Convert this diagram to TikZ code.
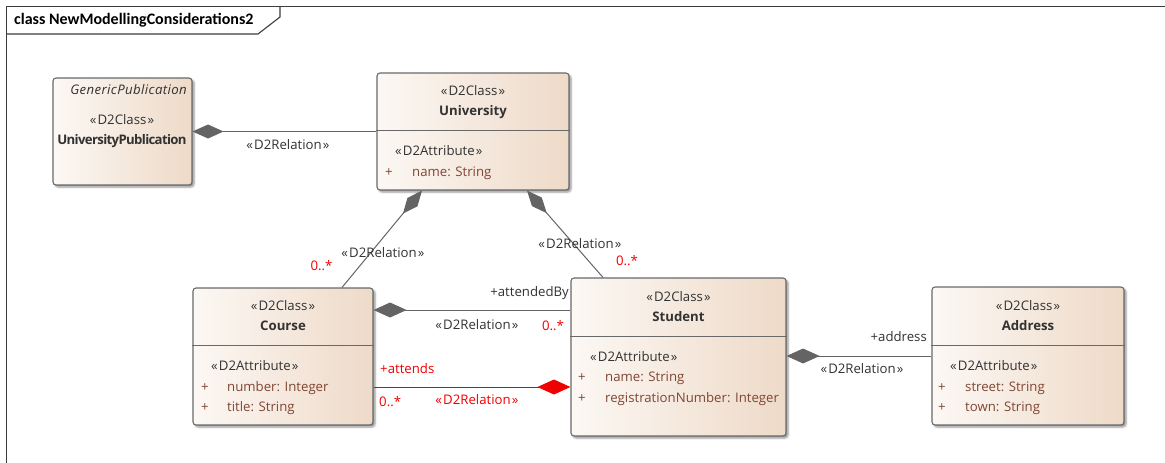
\documentclass[tikz,border=0pt]{standalone}
\usepackage{fontspec}
\setmainfont{Open Sans}
\newfontfamily\titlefont{Carlito}
\usetikzlibrary{arrows.meta,shadows.blur}
\definecolor{frameline}{RGB}{60,60,60}
\definecolor{boxline}{RGB}{105,105,105}
\definecolor{boxleft}{RGB}{252,248,244}
\definecolor{boxright}{RGB}{238,218,200}
\definecolor{attrcol}{RGB}{128,70,52}
\definecolor{txtcol}{RGB}{50,50,50}
\definecolor{relcol}{RGB}{100,100,100}
\definecolor{relred}{RGB}{240,0,0}
\newcommand{\dfont}{\fontsize{13.2}{16}\selectfont}
\newcommand{\strtype}[1]{«\kern1.2pt#1\kern1.2pt»}

\begin{document}
\begin{tikzpicture}[x=1pt, y=-1pt,
    cls/.style={draw=boxline, line width=1.1pt, rounded corners=3pt,
      left color=boxleft, right color=boxright, inner sep=0pt,
      blur shadow={shadow xshift=2pt, shadow yshift=-2pt,
        shadow blur radius=2pt, shadow opacity=45}},
    divline/.style={draw=boxline, line width=1pt},
    txt/.style={inner sep=0pt, text height=0.72em, text depth=0pt,
      text=txtcol, font=\dfont},
    bold/.style={txt, font=\dfont\bfseries},
    attr/.style={txt, text=attrcol, anchor=west},
    red/.style={txt, text=relred},
    rel/.style={draw=relcol, line width=1pt},
    relr/.style={draw=relred, line width=1pt}
  ]
  \useasboundingbox (0,0) rectangle (1165,463);
  \clip (0,0) rectangle (1165,463);
  % frame and title tab
  \draw [frameline, line width=1.3pt] (6.5,470) -- (6.5,6.5) -- (1170,6.5);
  \draw [frameline, line width=1.1pt] (6.5,34) -- (258,34) -- (280,17) -- (280,6.5);
  \node [anchor=west, inner sep=0pt, text height=0.72em, text depth=0pt,
    font=\titlefont\bfseries\fontsize{16}{18}\selectfont] (title) at (14,21) {class NewModellingConsiderations2};

  % classes
  \node [cls, minimum width=139pt, minimum height=107pt] (upub) at (122.5,131.5) {};
  \node [cls, minimum width=192pt, minimum height=117pt] (univ) at (473,131.5) {};
  \node [cls, minimum width=180pt, minimum height=137pt] (course) at (283,356.5) {};
  \node [cls, minimum width=215pt, minimum height=158pt] (student) at (678.5,357) {};
  \node [cls, minimum width=192pt, minimum height=138pt] (addr) at (1028,356) {};
  \draw [divline] (univ.west |- 0,130) -- (univ.east |- 0,130);
  \draw [divline] (course.west |- 0,345) -- (course.east |- 0,345);
  \draw [divline] (student.west |- 0,336) -- (student.east |- 0,336);
  \draw [divline] (addr.west |- 0,345) -- (addr.east |- 0,345);

  \node [txt, anchor=east, font=\dfont\itshape] (upub-g) at (187,91) {\addfontfeature{LetterSpace=3}GenericPublication};
  \node [txt] (upub-st) at (122,121) {\strtype{D2Class}};
  \node [bold] (upub-nm) at (122,141) {\addfontfeature{LetterSpace=-5}UniversityPublication};

  \node [txt] (univ-st) at (473,92) {\strtype{D2Class}};
  \node [bold] (univ-nm) at (473,112) {University};
  \node [txt, anchor=west] (univ-at) at (395,152) {\strtype{D2Attribute}};
  \node [attr] (univ-p1) at (385,173) {+};
  \node [attr] (univ-a1) at (412,173) {name: String};

  \node [txt] (course-st) at (283,307) {\strtype{D2Class}};
  \node [bold] (course-nm) at (283,327) {Course};
  \node [txt, anchor=west] (course-at) at (211,367) {\strtype{D2Attribute}};
  \node [attr] (course-p1) at (201,388) {+};
  \node [attr] (course-a1) at (227,388) {number: Integer};
  \node [attr] (course-p2) at (201,408) {+};
  \node [attr] (course-a2) at (227,408) {title: String};

  \node [txt] (student-st) at (678.5,298) {\strtype{D2Class}};
  \node [bold] (student-nm) at (678.5,318) {Student};
  \node [txt, anchor=west] (student-at) at (590,358) {\strtype{D2Attribute}};
  \node [attr] (student-p1) at (578,378) {+};
  \node [attr] (student-a1) at (605,378) {name: String};
  \node [attr] (student-p2) at (578,399) {+};
  \node [attr] (student-a2) at (605,399) {registrationNumber: Integer};

  \node [txt] (addr-st) at (1028,307) {\strtype{D2Class}};
  \node [bold] (addr-nm) at (1028,327) {Address};
  \node [txt, anchor=west] (addr-at) at (950,367) {\strtype{D2Attribute}};
  \node [attr] (addr-p1) at (938,388) {+};
  \node [attr] (addr-a1) at (965,388) {street: String};
  \node [attr] (addr-p2) at (938,408) {+};
  \node [attr] (addr-a2) at (965,408) {town: String};

  % relations
  \draw [rel, {Diamond[length=31pt, width=14pt]}-] (upub) -- (univ);
  \draw [rel, {Diamond[length=30pt, width=13pt]}-] ([xshift=-51pt]univ.south) -- ([xshift=59pt]course.north);
  \draw [rel, {Diamond[length=30pt, width=13pt]}-] ([xshift=54pt]univ.south) -- ([xshift=-75.5pt]student.north);
  \draw [rel, {Diamond[length=33pt, width=15pt]}-] (course.east |- 0,310) -- (student.west |- 0,310);
  \draw [relr, -{Diamond[length=33pt, width=15pt]}] (course.east |- 0,387) -- (student.west |- 0,387);
  \draw [rel, {Diamond[length=33pt, width=15pt]}-] (student.east |- 0,356) -- (addr.west |- 0,356);

  \node [txt] (r1) at (288,146) {\strtype{D2Relation}};
  \node [txt] (r2) at (383,254) {\strtype{D2Relation}};
  \node [red] (m2) at (321.5,267) {0..*};
  \node [txt] (r3) at (580,245) {\strtype{D2Relation}};
  \node [red] (m3) at (627,262) {0..*};
  \node [txt] (r4) at (477,326) {\strtype{D2Relation}};
  \node [txt, anchor=east] (e4) at (569,293) {+attendedBy};
  \node [red] (m4) at (553,327) {0..*};
  \node [red] (r5) at (477,401) {\strtype{D2Relation}};
  \node [red, anchor=west] (e5) at (380,370) {+attends};
  \node [red, anchor=west] (m5) at (379,403) {0..*};
  \node [txt] (r6) at (862,370) {\strtype{D2Relation}};
  \node [txt, anchor=east] (e6) at (927,338) {+address};
\end{tikzpicture}
\end{document}
